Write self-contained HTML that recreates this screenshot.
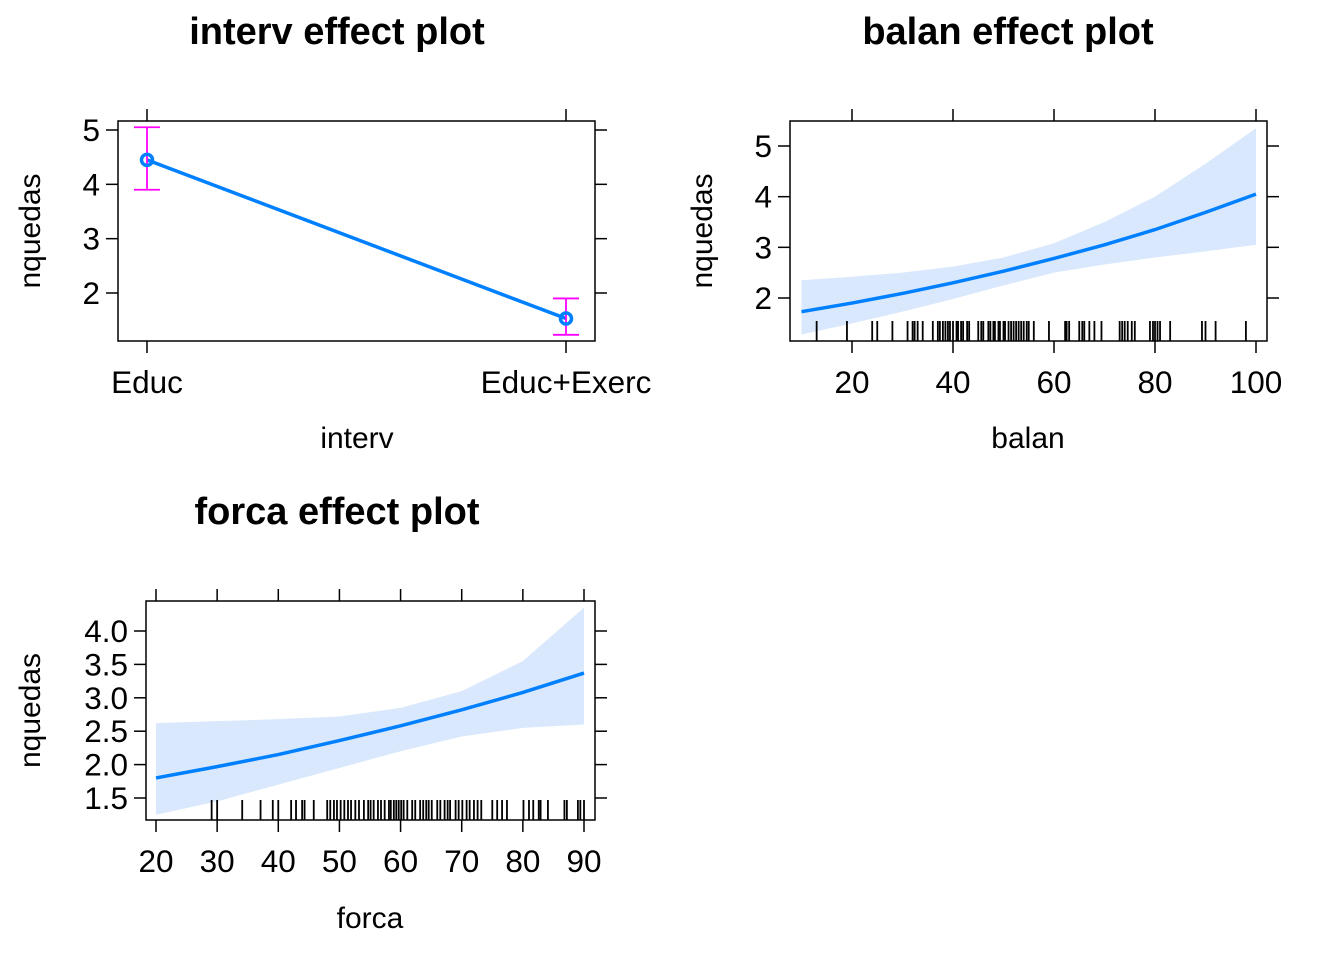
<!DOCTYPE html>
<html><head><meta charset="utf-8"><style>
html,body{margin:0;padding:0;background:#fff}
svg{display:block;font-family:"Liberation Sans",Arial,sans-serif}
</style></head><body>
<svg id="s" width="1344" height="960" viewBox="0 0 1344 960"></svg>
<script>
// Panel 1 data: interv
const intervCats = ["Educ","Educ+Exerc"];
const intervFit = [4.45, 1.53];
const intervLower = [3.9, 1.23];
const intervUpper = [5.05, 1.9];
const intervYTicks = [2,3,4,5];
// Panel 2 data: balan
const balanX = [10,20,30,40,50,60,70,80,90,100];
const balanFit = [1.73,1.90,2.09,2.30,2.53,2.78,3.05,3.35,3.69,4.05];
const balanUpper = [2.35,2.42,2.50,2.62,2.80,3.08,3.50,4.00,4.65,5.35];
const balanLower = [1.28,1.50,1.73,1.98,2.25,2.50,2.66,2.80,2.92,3.05];
const balanRug = [13,19,24,25,28,31,32,32.4,33,34,36,37,37.4,38,38.5,39,39.4,40,40.7,41,41.6,42,42.8,43.2,45,45.6,46,47,47.4,48,48.3,49,49.3,50,50.3,51,51.5,52,52.5,53,53.5,54,54.6,55,56,59,62.2,62.5,63,65,65.6,66,67,68,69.4,73,73.5,74,74.6,75.4,76,79,79.6,80,80.5,81,83,89.3,90,92,98];
const balanXTicks = [20,40,60,80,100];
const balanYTicks = [2,3,4,5];
// Panel 3 data: forca
const forcaX = [20,30,40,50,60,70,80,90];
const forcaFit = [1.80,1.97,2.15,2.36,2.58,2.82,3.08,3.37];
const forcaUpper = [2.62,2.65,2.68,2.72,2.85,3.10,3.55,4.35];
const forcaLower = [1.25,1.45,1.70,1.95,2.20,2.42,2.55,2.60];
const forcaRug = [29.1,30,34.1,37.1,39.1,40,42.1,42.9,43.9,44.3,45.8,48,48.5,49.1,49.6,50.2,50.8,51.4,51.9,52.6,53.2,54,54.7,55.1,55.6,56.3,56.8,57.4,58.1,58.4,58.9,59.3,59.7,60.1,60.5,61.1,61.9,62.4,63.2,63.7,64.2,64.6,65.1,66,66.5,67.2,67.7,68.1,69,69.5,70.1,70.8,71.3,72,72.6,73.2,75,75.8,76.6,77.4,80.1,81,81.7,82.6,82.9,84.1,86.8,87.2,89,89.4,90];
const forcaXTicks = [20,30,40,50,60,70,80,90];
const forcaYTicks = ["1.5","2.0","2.5","3.0","3.5","4.0"];

const NS="http://www.w3.org/2000/svg";
const svg=document.getElementById('s');
function mk(tag,attrs,parent,text){const e=document.createElementNS(NS,tag);for(const k in attrs)e.setAttribute(k,attrs[k]);if(text!==undefined)e.textContent=text;(parent||svg).appendChild(e);return e;}
function lin(d0,d1,r0,r1){return v=>r0+(v-d0)*(r1-r0)/(d1-d0);}

function panel(o){
  const g=mk('g',{});
  
  
  const t=mk('text',{x:o.titleX,y:o.titleY,'text-anchor':'middle','font-size':38,'font-weight':'bold'},g,o.title);
  
  
  const xl=mk('text',{x:o.xlabX,y:o.xlabY,'text-anchor':'middle','font-size':30},g,o.xlab);
  
  
  const cy=(o.y0+o.y1)/2;
  const yl=mk('text',{x:0,y:0,transform:`translate(${o.ylabX},${cy}) rotate(-90)`,'text-anchor':'middle','font-size':30},g,'nquedas');
  
  
  return g;
}
function frame(g,o,xs,xticks,xlabels,ys,yticks,ylabels){
  const b=mk('rect',{x:o.x0,y:o.y0,width:o.x1-o.x0,height:o.y1-o.y0,fill:'none',stroke:'#000','stroke-width':1.5},g);
  
  
  xticks.forEach((v,i)=>{
    const x=xs(v);
    mk('line',{x1:x,x2:x,y1:o.y1,y2:o.y1+12,stroke:'#000','stroke-width':1.5},g);
    mk('line',{x1:x,x2:x,y1:o.y0,y2:o.y0-12,stroke:'#000','stroke-width':1.5},g);
    const tl=mk('text',{x:x,y:o.y1+52,'text-anchor':'middle','font-size':31.5},g,xlabels[i]);
    
    
  });
  yticks.forEach((v,i)=>{
    const y=ys(v);
    mk('line',{x1:o.x0,x2:o.x0-12,y1:y,y2:y,stroke:'#000','stroke-width':1.5},g);
    mk('line',{x1:o.x1,x2:o.x1+12,y1:y,y2:y,stroke:'#000','stroke-width':1.5},g);
    const tl=mk('text',{x:o.x0-18,y:y+11,'text-anchor':'end','font-size':31.5},g,ylabels[i]);
    
    
  });
}

// Panel 1
(function(){
  const o={name:'interv-panel',x0:118,x1:595,y0:121,y1:341,title:'interv effect plot',titleX:337,titleY:44,xlab:'interv',xlabX:357,xlabY:448,ylabX:40};
  const g=panel(o);
  const xs=i=>147+i*(566-147);
  const ys=lin(5,2,130,293);
  frame(g,o,xs,[0,1],intervCats,ys,intervYTicks,intervYTicks.map(String));
  let d='';
  intervFit.forEach((v,i)=>{d+=(i?'L':'M')+xs(i)+','+ys(v);});
  const ln=mk('path',{d:d,fill:'none',stroke:'#0080ff','stroke-width':3.5},g);
  
  
  intervFit.forEach((v,i)=>{
    const x=xs(i);
    const eb=mk('path',{d:`M${x},${ys(intervLower[i])}V${ys(intervUpper[i])}M${x-13},${ys(intervLower[i])}H${x+13}M${x-13},${ys(intervUpper[i])}H${x+13}`,stroke:'#ff00ff','stroke-width':1.8,fill:'none'},g);
    
    
    const p=mk('circle',{cx:x,cy:ys(v),r:5.5,fill:'none',stroke:'#0080ff','stroke-width':3.5},g);
    
    
  });
})();

function contPanel(o,X,fit,up,lo,rug,xt,xtl,yt,ytl,yd){
  const g=panel(o);
  const xs=lin(o.xd[0],o.xd[1],o.xr[0],o.xr[1]);
  const ys=lin(yd[0],yd[1],yd[2],yd[3]);
  let d='';
  X.forEach((v,i)=>{d+=(i?'L':'M')+xs(v)+','+ys(up[i]);});
  for(let i=X.length-1;i>=0;i--)d+='L'+xs(X[i])+','+ys(lo[i]);
  const band=mk('path',{d:d+'Z',fill:'#d9e8fc',stroke:'none'},g);
  
  
  rug.forEach(v=>{
    const r=mk('line',{x1:xs(v),x2:xs(v),y1:o.y1-20,y2:o.y1,stroke:'#000','stroke-width':1.8},g);
    
    
  });
  let p='';
  X.forEach((v,i)=>{p+=(i?'L':'M')+xs(v)+','+ys(fit[i]);});
  const ln=mk('path',{d:p,fill:'none',stroke:'#0080ff','stroke-width':3.5},g);
  
  
  frame(g,o,xs,xt,xtl,ys,yt,ytl);
}
contPanel({name:'balan-panel',x0:790,x1:1267,y0:121,y1:341,title:'balan effect plot',titleX:1008,titleY:44,xlab:'balan',xlabX:1028,xlabY:448,ylabX:712,xd:[20,100],xr:[852,1256]},
  balanX,balanFit,balanUpper,balanLower,balanRug,balanXTicks,balanXTicks.map(String),balanYTicks,balanYTicks.map(String),[5,2,146,298]);
contPanel({name:'forca-panel',x0:146,x1:595,y0:601,y1:820,title:'forca effect plot',titleX:337,titleY:524,xlab:'forca',xlabX:370,xlabY:928,ylabX:40,xd:[20,90],xr:[156,584]},
  forcaX,forcaFit,forcaUpper,forcaLower,forcaRug,forcaXTicks,forcaXTicks.map(String),forcaYTicks.map(Number),forcaYTicks,[4,1.5,631,798]);
</script>
</body></html>
